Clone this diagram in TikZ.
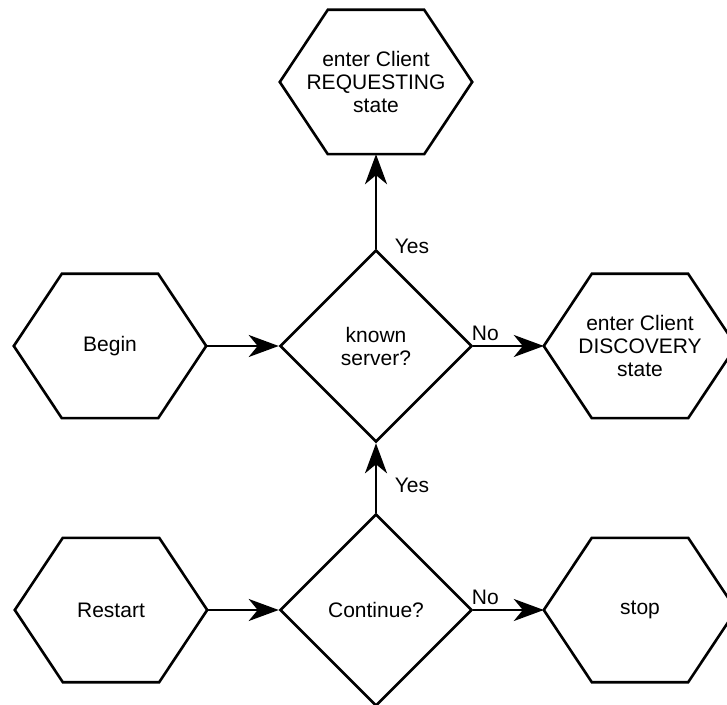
\documentclass[tikz,border=0pt]{standalone}
\usepackage{fontspec}
\setmainfont{Liberation Sans}
\usetikzlibrary{arrows.meta,shapes.geometric,calc}
\tikzset{
  shapeline/.style={line width=2.6pt, black},
  hexbox/.style={minimum width=192pt, minimum height=144pt, inner sep=0pt, align=center, draw=none},
  decision/.style={diamond, minimum width=192pt, minimum height=192pt, inner sep=0pt, aspect=1, align=center, shapeline, draw},
  conn/.style={line width=2.6pt, -{Stealth[length=30pt,width=22pt,inset=9pt]}},
  lbl/.style={inner sep=0pt}
}
\newcommand{\hexdraw}[1]{%
  \draw[shapeline] (#1.west) -- ($(#1.north west)+(48pt,0)$) -- ($(#1.north east)+(-48pt,0)$)
    -- (#1.east) -- ($(#1.south east)+(-48pt,0)$) -- ($(#1.south west)+(48pt,0)$) -- cycle;}
\begin{document}
\begin{tikzpicture}[x=1pt,y=1pt,font=\fontsize{21}{23}\selectfont]
\useasboundingbox (0,0) rectangle (727,704);
\fill[white] (0,0) rectangle (727,704);
\node[hexbox] (req) at (376,622) {enter Client\\REQUESTING\\state};
\node[hexbox] (begin) at (110,358) {Begin};
\node[decision] (known) at (376,358) {known\\server?};
\node[hexbox] (disc) at (640,358) {enter Client\\DISCOVERY\\state};
\node[hexbox] (restart) at (111,94) {Restart};
\node[decision] (cont) at (376,94) {Continue?};
\node[hexbox] (stop) at (640,94) {stop};
\hexdraw{req}
\hexdraw{begin}
\hexdraw{disc}
\hexdraw{restart}
\hexdraw{stop}
\draw[conn] (begin.east) -- (known.west);
\draw[conn] (known.north) -- (req.south);
\draw[conn] (known.east) -- (disc.west);
\draw[conn] (restart.east) -- (cont.west);
\draw[conn] (cont.north) -- (known.south);
\draw[conn] (cont.east) -- (stop.west);
\node[lbl] (yes1) at ($(known.north)+(36,2)$) {Yes};
\node[lbl] (no1) at ($(known.east)+(12,13)$) {No};
\node[lbl] (yes2) at ($(cont.north)+(36,27)$) {Yes};
\node[lbl] (no2) at ($(cont.east)+(12,13)$) {No};
\end{tikzpicture}
\end{document}
